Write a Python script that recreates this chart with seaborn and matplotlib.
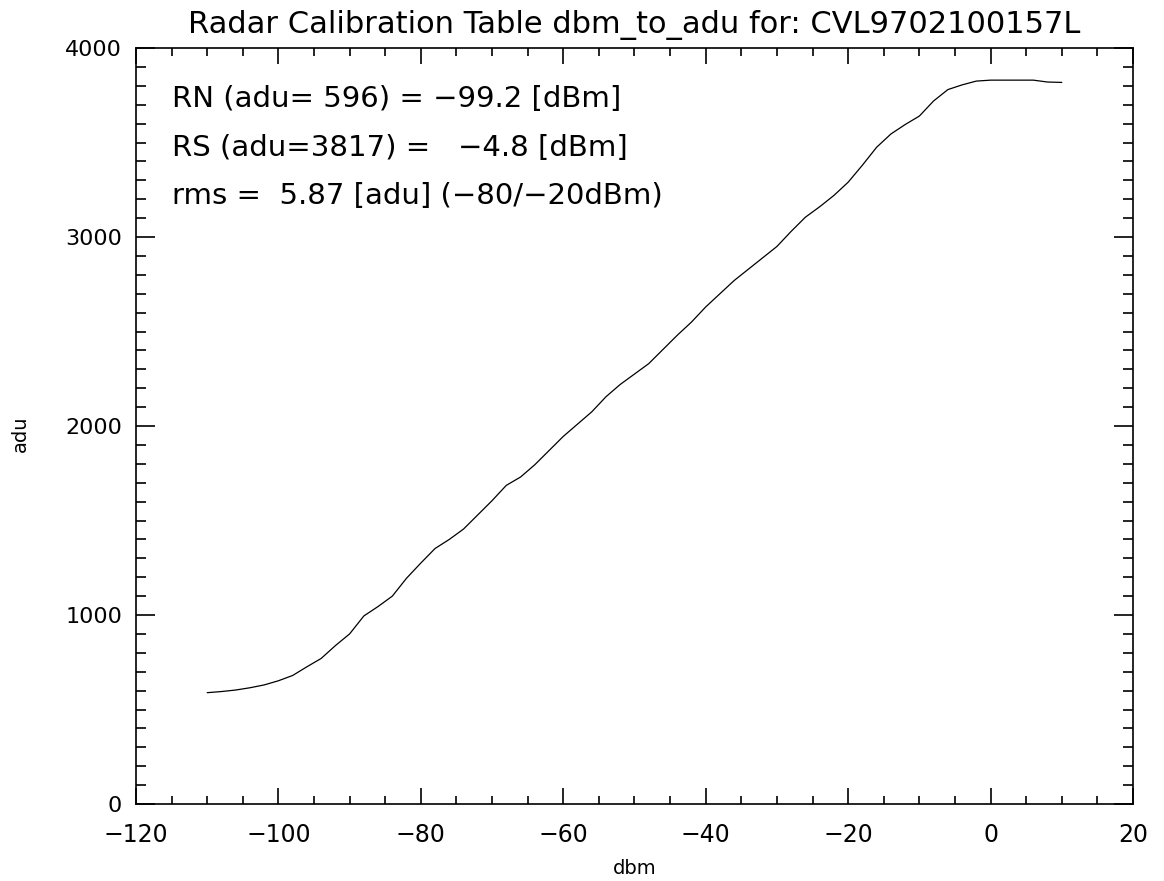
import numpy as np
import pandas as pd
import matplotlib
matplotlib.use("Agg")
import matplotlib.pyplot as plt
from matplotlib.ticker import MultipleLocator
import seaborn as sns

# calibration curve
dbm = [-110, -108, -106, -104, -102, -100, -98, -96, -94, -92, -90, -88, -86, -84,
       -82, -80, -78, -76, -74, -72, -70, -68, -66, -64, -62, -60, -58, -56, -54,
       -52, -50, -48, -46, -44, -42, -40, -38, -36, -34, -32, -30, -28, -26, -24,
       -22, -20, -18, -16, -14, -12, -10, -8, -6, -4, -2, 0, 2, 4, 6, 8, 10]
adu = [589, 595, 603, 615, 630, 652, 680, 726, 770, 838, 900, 995, 1045, 1100,
       1195, 1275, 1352, 1400, 1455, 1530, 1605, 1686, 1730, 1795, 1870, 1945, 2010,
       2075, 2155, 2220, 2275, 2330, 2405, 2480, 2550, 2630, 2700, 2770, 2830, 2890,
       2950, 3030, 3105, 3160, 3220, 3290, 3380, 3475, 3545, 3595, 3640, 3720, 3780,
       3805, 3825, 3830, 3830, 3830, 3830, 3820, 3818]

title = "Radar Calibration Table dbm_to_adu for: CVL9702100157L"
notes = ["RN (adu= 596) = \u221299.2 [dBm]",
         "RS (adu=3817) =   \u22124.8 [dBm]",
         "rms =  5.87 [adu] (\u221280/\u221220dBm)"]

df = pd.DataFrame({"dbm": dbm, "adu": adu})

sns.set_style("ticks")
plt.rcParams['font.family'] = ['DejaVu Sans']
plt.rcParams['axes.unicode_minus'] = True
plt.rcParams['text.color'] = 'black'
plt.rcParams['axes.labelcolor'] = 'black'
plt.rcParams['xtick.color'] = 'black'
plt.rcParams['ytick.color'] = 'black'

fig = plt.figure(figsize=(11.64, 8.81), dpi=100)
ax = fig.add_axes([0.1168, 0.0874, 0.8566, 0.8581])

sns.lineplot(data=df, x="dbm", y="adu", color="black", lw=0.9, ax=ax)

ax.set_xlim(-120, 20)
ax.set_ylim(0, 4000)
ax.xaxis.set_major_locator(MultipleLocator(20))
ax.xaxis.set_minor_locator(MultipleLocator(5))
ax.yaxis.set_major_locator(MultipleLocator(1000))
ax.yaxis.set_minor_locator(MultipleLocator(100))

for s in ax.spines.values():
    s.set_linewidth(1.2)
    s.set_color("black")

ax.tick_params(axis="x", which="major", direction="in", length=11.5, width=1.2,
               top=True, labelsize=17, pad=14)
ax.tick_params(axis="x", which="minor", direction="in", length=5.8, width=1.2, top=True)
ax.tick_params(axis="y", which="major", direction="in", length=14, width=1.2,
               right=True, labelsize=16, pad=10)
ax.tick_params(axis="y", which="minor", direction="in", length=7, width=1.2, right=True)

ax.set_xlabel("dbm", fontsize=14, labelpad=8)
ax.set_ylabel("adu", fontsize=14)
ax.yaxis.set_label_coords(-0.106, 0.49)
ax.set_title(title, fontsize=22, pad=11)

for i, t in enumerate(notes):
    ax.text(0.036, 0.932 - i * 0.064, t, transform=ax.transAxes, fontsize=21,
            ha="left", va="center")

fig.savefig("out.png", dpi=100)
